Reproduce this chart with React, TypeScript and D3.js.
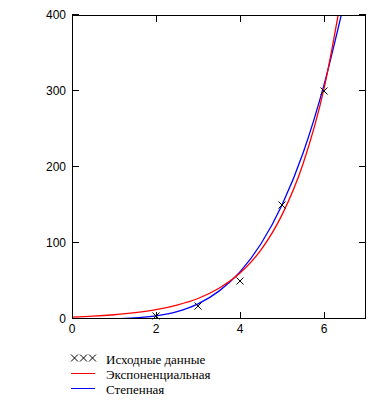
import React from 'react';
import * as d3 from 'd3';

// source measurements
const dataX = [2, 3, 4, 5, 6];
const dataY = [4, 17, 50, 150, 300];

// fitted curves, every 0.5
const fitX = [0, 0.5, 1, 1.5, 2, 2.5, 3, 3.5, 4, 4.5, 5, 5.5, 6, 6.5];
const expY = [2.5, 3.7, 5.6, 8.3, 12.2, 18.3, 27, 40.5, 60.5, 91, 137, 204, 303, 452];
const powY = [0, 0.02, 0.26, 1.3, 4, 9.7, 19.9, 36.7, 62, 99, 150, 218, 308, 421];

const xTicks = [0, 2, 4, 6];
const yTicks = [0, 100, 200, 300, 400];

const legendLabels = ['Исходные данные', 'Экспоненциальная', 'Степенная'];

const W = 386;
const H = 404;
const left = 72;
const right = 366;
const top = 15;
const bottom = 319;

const Cross = ({ cx, cy, r = 3.5 }: { cx: number; cy: number; r?: number }) => (
  <g stroke="#000" strokeWidth={1}>
    <line x1={cx - r} y1={cy - r} x2={cx + r} y2={cy + r} />
    <line x1={cx - r} y1={cy + r} x2={cx + r} y2={cy - r} />
  </g>
);

export default function App() {
  const x = d3.scaleLinear().domain([0, 7]).range([left, right]);
  const y = d3.scaleLinear().domain([0, 400]).range([bottom, top]);

  const line = d3
    .line<number>()
    .x((_, i) => x(fitX[i]))
    .y((d) => y(d))
    .curve(d3.curveMonotoneX);

  const axisFont = '"Liberation Sans", Arial, sans-serif';
  const legendFont = '"Liberation Serif", "Times New Roman", serif';

  return (
    <svg
      width={W}
      height={H}
      style={{ position: 'absolute', left: 0, top: 0, background: '#fff' }}
    >
      <defs>
        <clipPath id="plot">
          <rect x={left} y={top} width={right - left} height={bottom - top} />
        </clipPath>
      </defs>

      {/* curves */}
      <g clipPath="url(#plot)" fill="none" strokeWidth={1.3}>
        <path d={line(powY) || ''} stroke="#0000ff" />
        <path d={line(expY) || ''} stroke="#ff0000" />
      </g>

      {/* frame */}
      <rect
        x={left + 0.5}
        y={top + 0.5}
        width={right - left - 1}
        height={bottom - top - 1}
        fill="none"
        stroke="#000"
        shapeRendering="crispEdges"
      />

      {/* x ticks, bottom and top */}
      <g stroke="#000" shapeRendering="crispEdges">
        {xTicks.map((t) => (
          <g key={t}>
            <line x1={x(t) + 0.5} x2={x(t) + 0.5} y1={bottom} y2={bottom - 7} />
            <line x1={x(t) + 0.5} x2={x(t) + 0.5} y1={top} y2={top + 7} />
          </g>
        ))}
        {yTicks.map((t) => (
          <g key={t}>
            <line x1={left} x2={left + 7} y1={y(t) - 0.5} y2={y(t) - 0.5} />
            <line x1={right - 7} x2={right} y1={y(t) - 0.5} y2={y(t) - 0.5} />
          </g>
        ))}
        <line x1={left} x2={left + 7} y1={top - 0.5} y2={top - 0.5} />
        <line x1={right - 7} x2={right} y1={top - 0.5} y2={top - 0.5} />
      </g>

      {/* tick labels */}
      <g fontFamily={axisFont} fontSize={12} fill="#000">
        {yTicks.map((t) => (
          <text key={t} x={left - 6} y={y(t)} dy="0.35em" textAnchor="end">
            {t}
          </text>
        ))}
        {xTicks.map((t) => (
          <text key={t} x={x(t)} y={bottom + 14} textAnchor="middle">
            {t}
          </text>
        ))}
      </g>

      {/* data markers */}
      {dataX.map((d, i) => (
        <Cross key={d} cx={x(d)} cy={y(dataY[i])} />
      ))}

      {/* legend */}
      <g>
        {[74.5, 83.5, 92.5].map((cx) => (
          <Cross key={cx} cx={cx} cy={358} r={3.5} />
        ))}
        <line x1={71} x2={95} y1={373.5} y2={373.5} stroke="#ff0000" />
        <line x1={71} x2={95} y1={388.5} y2={388.5} stroke="#0000ff" />
        <g fontFamily={legendFont} fontSize={13} fill="#000">
          {legendLabels.map((s, i) => (
            <text key={s} x={106} y={364 + i * 15}>
              {s}
            </text>
          ))}
        </g>
      </g>
    </svg>
  );
}
